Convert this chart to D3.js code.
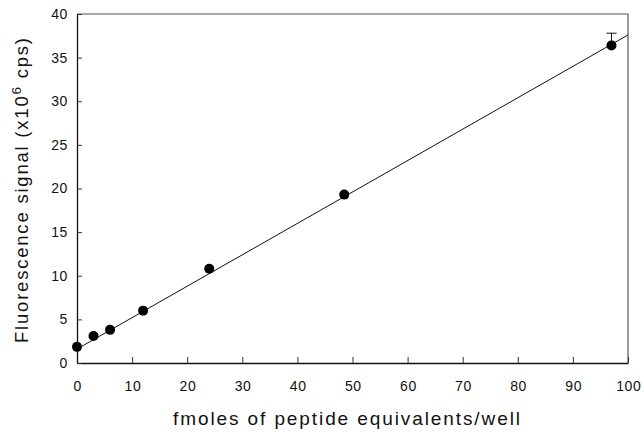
<!DOCTYPE html>
<html><head><meta charset="utf-8">
<script src="https://cdn.jsdelivr.net/npm/d3@7"></script>
<style>body{margin:0;background:#fff}svg{display:block}text{font-family:"Liberation Sans",Arial,sans-serif;fill:#111}</style>
</head><body>
<script>
const pointX = [0, 3, 6, 12, 24, 48.5, 97];
const pointY = [1.85, 3.1, 3.8, 6.0, 10.8, 19.3, 36.4];
const errorUp = [0, 0, 0, 0, 0, 0, 1.4];
const fitX = [0, 100];
const fitY = [1.6, 37.6];
const xTicks = [0,10,20,30,40,50,60,70,80,90,100];
const yTicks = [0,5,10,15,20,25,30,35,40];
const xTitle = "fmoles of peptide equivalents/well";

const W=642,H=434, L=77, R=628, T=14, B=363;
const svg=d3.select("body").append("svg").attr("width",W).attr("height",H);
const x=d3.scaleLinear().domain([0,100]).range([L,R]);
const y=d3.scaleLinear().domain([0,40]).range([B,T]);

// frame top/right
svg.append("path").attr("d",`M${L},${T}H${R}V${B}`).attr("fill","none").attr("stroke","#555").attr("stroke-width",1.2);

const xa=svg.append("g").attr("transform",`translate(0,${B})`)
  .call(d3.axisBottom(x).tickValues(xTicks).tickSizeInner(-6).tickSizeOuter(0).tickPadding(18));
const ya=svg.append("g").attr("transform",`translate(${L},0)`)
  .call(d3.axisLeft(y).tickValues(yTicks).tickSizeInner(-5).tickSizeOuter(0).tickPadding(9));
[xa,ya].forEach(a=>{a.select(".domain").attr("stroke","#111").attr("stroke-width",1.3);
  a.selectAll(".tick line").attr("stroke","#333");
  a.selectAll("text").style("font-size","14px").style("letter-spacing","0.6px").attr("fill","#111");});
xa.selectAll("text").attr("dx","0.3px");

// fit line
svg.append("line").attr("x1",x(fitX[0])).attr("y1",y(fitY[0])).attr("x2",x(fitX[1])).attr("y2",y(fitY[1]))
  .attr("stroke","#111").attr("stroke-width",1);

// error bars
pointX.forEach((px,i)=>{ if(errorUp[i]>0){
  const cx=x(px), y0=y(pointY[i]), y1=y(pointY[i]+errorUp[i]);
  svg.append("line").attr("x1",cx).attr("x2",cx).attr("y1",y0).attr("y2",y1).attr("stroke","#111");
  svg.append("line").attr("x1",cx-5).attr("x2",cx+5).attr("y1",y1).attr("y2",y1).attr("stroke","#111");
}});

svg.selectAll("circle.p").data(pointX.map((v,i)=>[v,pointY[i]])).enter().append("circle")
  .attr("cx",d=>x(d[0])).attr("cy",d=>y(d[1])).attr("r",5).attr("fill","#000");

svg.append("text").attr("x",346.5).attr("y",425).attr("text-anchor","middle").style("font-size","19px")
  .attr("textLength",347).attr("lengthAdjust","spacing").text(xTitle);
const yt=svg.append("text").attr("transform",`translate(28,190.5) rotate(-90)`).attr("text-anchor","middle").style("font-size","18.5px")
  .attr("textLength",305).attr("lengthAdjust","spacing");
yt.append("tspan").text("Fluorescence signal (x10");
yt.append("tspan").attr("dy",-7).style("font-size","13.5px").text("6");
yt.append("tspan").attr("dy",7).text(" cps)");
</script>
</body></html>
